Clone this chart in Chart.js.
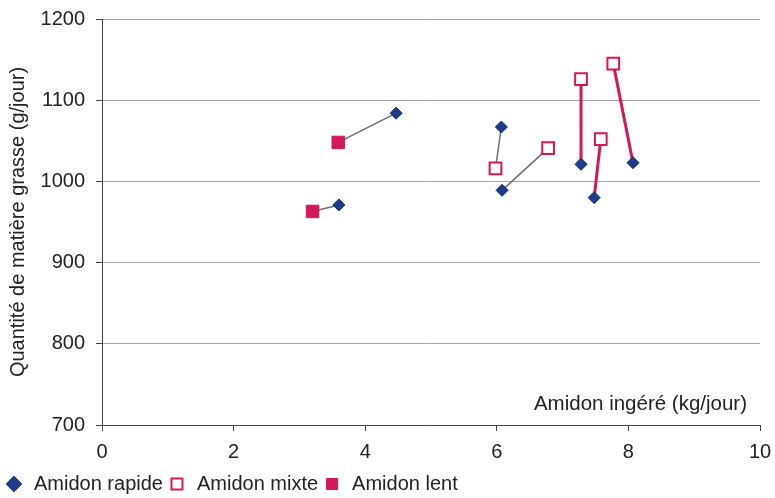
<!DOCTYPE html>
<html>
<head>
<meta charset="utf-8">
<script src="https://cdn.jsdelivr.net/npm/chart.js@4.4.1/dist/chart.umd.min.js"></script>
<style>
  html, body { margin: 0; padding: 0; background: #fff; }
  #wrap { width: 775px; height: 498px; }
</style>
</head>
<body>
<div id="wrap"><canvas id="chart" width="775" height="498"></canvas></div>
<script>
'use strict';

// données
var rapideX = [3.60, 4.47, 6.07, 6.08, 7.28, 7.48, 8.07];
var rapideY = [971, 1084, 1067, 989, 1021, 980, 1023];
var mixteX = [5.98, 6.78, 7.28, 7.58, 7.77];
var mixteY = [1016, 1041, 1126, 1052, 1145];
var lentX = [3.20, 3.59];
var lentY = [963, 1048];
// liaisons [serie, index, serie, index]
var liensGris = [['lent', 0, 'rapide', 0], ['lent', 1, 'rapide', 1], ['mixte', 0, 'rapide', 2], ['rapide', 3, 'mixte', 1]];
var liensRouges = [['mixte', 2, 'rapide', 4], ['mixte', 3, 'rapide', 5], ['mixte', 4, 'rapide', 6]];
var xTicks = [0, 2, 4, 6, 8, 10];
var yTicks = [700, 800, 900, 1000, 1100, 1200];

var series = {
    rapide: { x: rapideX, y: rapideY },
    mixte: { x: mixteX, y: mixteY },
    lent: { x: lentX, y: lentY }
};

function points(xs, ys) {
    return xs.map(function (v, i) { return { x: v, y: ys[i] }; });
}

function liens(list) {
    var out = [];
    list.forEach(function (l) {
        out.push({ x: series[l[0]].x[l[1]], y: series[l[0]].y[l[1]] });
        out.push({ x: series[l[2]].x[l[3]], y: series[l[2]].y[l[3]] });
        out.push({ x: series[l[2]].x[l[3]], y: null });
    });
    return out;
}

var FONT = "'Liberation Sans', Arial, sans-serif";
var rouge = '#d5175c';
var bleu = '#1f3b8c';

// titre de l'axe x dans la zone du graphique
var xTitle = {
    id: 'xTitle',
    afterDraw: function (chart) {
        var ctx = chart.ctx;
        ctx.save();
        ctx.font = '20.5px ' + FONT;
        ctx.fillStyle = '#222';
        ctx.textAlign = 'right';
        ctx.textBaseline = 'middle';
        ctx.fillText('Amidon ingéré (kg/jour)', 747, 404);
        ctx.restore();
    }
};

// legende plus serree en bas
var legendFit = {
    id: 'legendFit',
    afterInit: function (chart) {
        var lg = chart.legend;
        var fit = lg.fit;
        lg.fit = function () {
            fit.call(this);
            this.height -= 6;
        };
    }
};

var ctx = document.getElementById('chart').getContext('2d');
var chart = new Chart(ctx, {
    type: 'scatter',
    data: {
        datasets: [{
            label: 'Amidon rapide',
            data: points(rapideX, rapideY),
            pointStyle: 'rectRot',
            pointRadius: 6,
            backgroundColor: bleu,
            borderColor: '#16296b',
            borderWidth: 1
        }, {
            label: 'Amidon mixte',
            data: points(mixteX, mixteY),
            pointStyle: 'rect',
            pointRadius: 8.3,
            backgroundColor: '#fff',
            borderColor: rouge,
            borderWidth: 2
        }, {
            label: 'Amidon lent',
            data: points(lentX, lentY),
            pointStyle: 'rect',
            pointRadius: 8.8,
            backgroundColor: rouge,
            borderColor: rouge,
            borderWidth: 1
        }, {
            label: 'liens gris',
            type: 'line',
            data: liens(liensGris),
            showLine: true,
            spanGaps: false,
            pointRadius: 0,
            borderColor: '#6f6f6f',
            borderWidth: 1.5
        }, {
            label: 'liens rouges',
            type: 'line',
            data: liens(liensRouges),
            showLine: true,
            spanGaps: false,
            pointRadius: 0,
            borderColor: rouge,
            borderWidth: 3
        }]
    },
    options: {
        responsive: false,
        animation: false,
        layout: { padding: { left: 0, right: 15, top: 19, bottom: 0 } },
        scales: {
            x: {
                type: 'linear',
                min: 0,
                max: 10,
                afterBuildTicks: function (s) { s.ticks = xTicks.map(function (v) { return { value: v }; }); },
                afterFit: function (s) {
                    s.height = 45;
                    s.paddingLeft = 0;
                    s.paddingRight = 0;
                },
                grid: { drawOnChartArea: false, tickLength: 6, color: '#444' },
                border: { color: '#444', width: 1 },
                ticks: { color: '#222', font: { family: FONT, size: 20 }, padding: 9 }
            },
            y: {
                min: 700,
                max: 1200,
                afterBuildTicks: function (s) { s.ticks = yTicks.map(function (v) { return { value: v }; }); },
                afterFit: function (s) {
                    s.width = 102;
                    s.paddingTop = 0;
                    s.paddingBottom = 0;
                },
                grid: { color: '#a6a6a6', tickColor: '#444', tickLength: 6 },
                border: { color: '#444', width: 1 },
                ticks: {
                    color: '#222',
                    font: { family: FONT, size: 20 },
                    padding: 11,
                    callback: function (v) { return String(v); }
                },
                title: {
                    display: true,
                    text: 'Quantité de matière grasse (g/jour)',
                    color: '#222',
                    font: { family: FONT, size: 20 },
                    padding: { top: 6, bottom: 0 }
                }
            }
        },
        plugins: {
            tooltip: { enabled: false },
            legend: {
                position: 'bottom',
                align: 'start',
                labels: {
                    usePointStyle: true,
                    boxHeight: 11,
                    padding: 4,
                    color: '#222',
                    font: { family: FONT, size: 20 },
                    filter: function (item) { return item.datasetIndex < 3; }
                }
            }
        }
    },
    plugins: [xTitle, legendFit]
});
</script>
</body>
</html>
